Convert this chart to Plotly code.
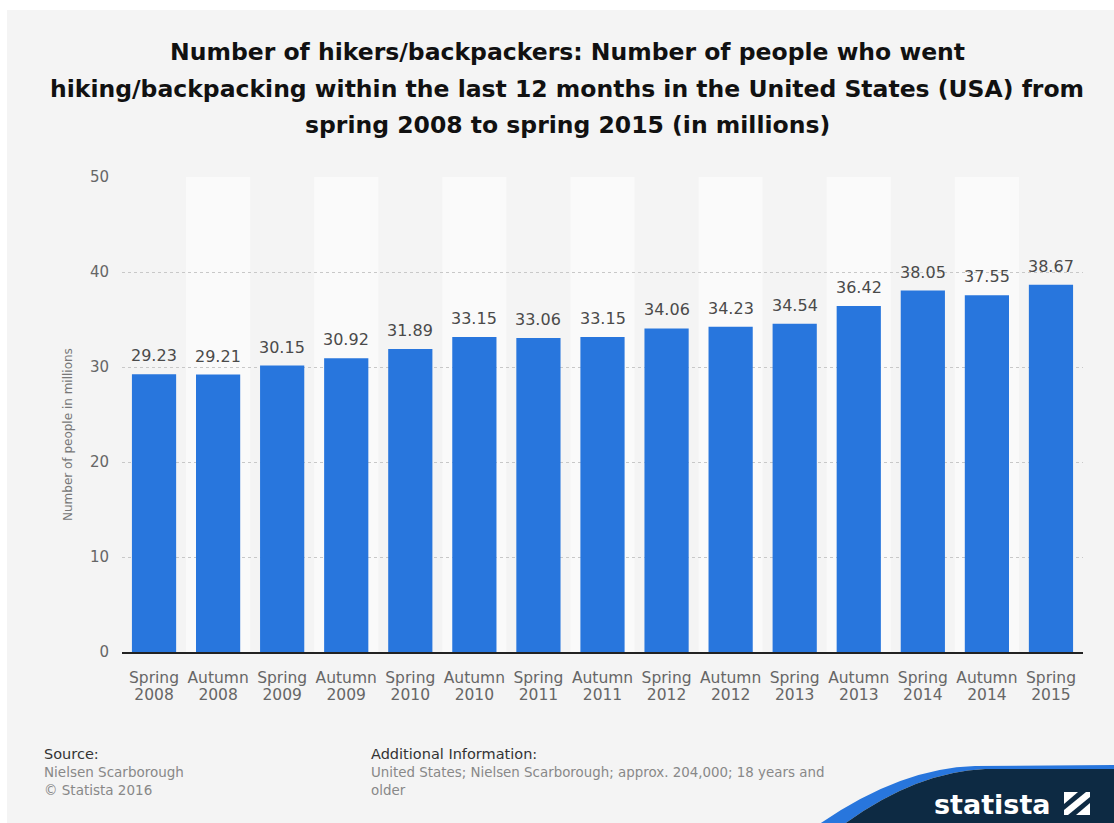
import plotly.graph_objects as go

categories = ["Spring 2008", "Autumn 2008", "Spring 2009", "Autumn 2009", "Spring 2010",
              "Autumn 2010", "Spring 2011", "Autumn 2011", "Spring 2012", "Autumn 2012",
              "Spring 2013", "Autumn 2013", "Spring 2014", "Autumn 2014", "Spring 2015"]
values = [29.23, 29.21, 30.15, 30.92, 31.89, 33.15, 33.06, 33.15, 34.06, 34.23,
          34.54, 36.42, 38.05, 37.55, 38.67]
tick_labels = ["<br>".join(f"<span style='font-size:15.5px'>{part}</span>" for part in c.split(" "))
               for c in categories]
y_ticks = [0, 10, 20, 30, 40, 50]

W, H = 1114, 823
L, R, T, B = 122, 31, 177, 171
PW, PH = W - L - R, H - T - B

def px(x):
    return (x - L) / PW

def py(y):
    return 1 - (y - T) / PH

BG = "#f4f4f4"
BLUE = "#2876dd"
NAVY = "#0d2a43"

fig = go.Figure()
fig.add_trace(go.Bar(
    x=categories, y=values,
    marker=dict(color=BLUE, line=dict(width=0)),
    hoverinfo="x+y",
))

shapes = []
shapes.append(dict(type="rect", xref="paper", yref="paper", x0=px(7), x1=px(W + 5),
                   y0=py(H + 5), y1=py(10), fillcolor=BG, line=dict(width=0), layer="below"))
for i in range(1, len(categories), 2):
    shapes.append(dict(type="rect", xref="x", yref="y", x0=i - 0.5, x1=i + 0.5, y0=0, y1=50,
                       fillcolor="#fafafa", line=dict(width=0), layer="below"))

blue_path = (f"M {px(818)} {py(H + 2)} Q {px(900)} {py(768)} {px(975)} {py(766)} "
             f"L {px(W + 2)} {py(765)} L {px(W + 2)} {py(769)} L {px(985)} {py(769)} "
             f"Q {px(915)} {py(772)} {px(843)} {py(H + 2)} Z")
navy_path = (f"M {px(843)} {py(H + 2)} Q {px(915)} {py(772)} {px(985)} {py(769)} "
             f"L {px(W + 2)} {py(769)} L {px(W + 2)} {py(H + 2)} Z")
shapes.append(dict(type="path", xref="paper", yref="paper", path=blue_path,
                   fillcolor=BLUE, line=dict(width=0)))
shapes.append(dict(type="path", xref="paper", yref="paper", path=navy_path,
                   fillcolor=NAVY, line=dict(width=0)))
shapes.append(dict(type="rect", xref="paper", yref="paper", x0=px(1064), x1=px(1090),
                   y0=py(815), y1=py(792), fillcolor="white", line=dict(width=0)))
shapes.append(dict(type="path", xref="paper", yref="paper",
                   path=f"M {px(1068)} {py(815)} L {px(1090)} {py(797)} L {px(1090)} {py(803)} L {px(1076)} {py(815)} Z",
                   fillcolor=NAVY, line=dict(width=0)))
shapes.append(dict(type="path", xref="paper", yref="paper",
                   path=f"M {px(1064)} {py(804)} L {px(1078)} {py(792)} L {px(1086)} {py(792)} L {px(1064)} {py(810)} Z",
                   fillcolor=NAVY, line=dict(width=0)))

title_lines = ["Number of hikers/backpackers: Number of people who went",
               "hiking/backpacking within the last 12 months in the United States (USA) from",
               "spring 2008 to spring 2015 (in millions)"]
annotations = []
for k, line in enumerate(title_lines):
    annotations.append(dict(text=f"<b>{line}</b>", xref="paper", yref="paper",
                            x=px(567), y=py(52 + 36.5 * k), showarrow=False,
                            xanchor="center", yanchor="middle",
                            font=dict(family="DejaVu Sans", size=23.5, color="#111")))

# value labels above bars
for cat, v in zip(categories, values):
    annotations.append(dict(text=f"{v:.2f}", x=cat, y=v, xref="x", yref="y",
                            showarrow=False, xanchor="center", yanchor="bottom", yshift=7,
                            font=dict(family="DejaVu Sans", size=16, color="#4a4a4a")))

# y-axis title
annotations.append(dict(text="Number of people in millions", xref="paper", yref="paper",
                        x=px(68), y=py(435), textangle=-90, showarrow=False,
                        xanchor="center", yanchor="middle",
                        font=dict(family="DejaVu Sans", size=12, color="#777")))

def note(text, x, y, color, size):
    annotations.append(dict(text=text, xref="paper", yref="paper", x=px(x), y=py(y),
                            showarrow=False, xanchor="left", yanchor="middle",
                            font=dict(family="DejaVu Sans", size=size, color=color)))

note("Source:", 42, 754, "#333", 14.5)
note("Nielsen Scarborough", 42, 772, "#888", 13.5)
note("© Statista 2016", 42, 790, "#888", 13.5)
note("Additional Information:", 369, 754, "#333", 14.5)
note("United States; Nielsen Scarborough; approx. 204,000; 18 years and", 369, 772, "#888", 13.4)
note("older", 369, 790, "#888", 13.4)
annotations.append(dict(text="<b>statista</b>", xref="paper", yref="paper", x=px(1053), y=py(804),
                        showarrow=False, xanchor="right", yanchor="middle",
                        font=dict(family="DejaVu Sans", size=27, color="white")))

fig.update_layout(
    width=W, height=H,
    margin=dict(l=L, r=R, t=T, b=B, autoexpand=False),
    paper_bgcolor="white", plot_bgcolor=BG,
    bargap=0.31, showlegend=False,
    shapes=shapes, annotations=annotations,
    font=dict(family="DejaVu Sans"),
)
fig.update_xaxes(
    tickvals=categories, ticktext=tick_labels,
    tickfont=dict(size=13, color="#666"),
    showline=True, linecolor="#222", linewidth=1.5,
    showgrid=False, ticks="", ticklabelstandoff=14,
    range=[-0.5, len(categories) - 0.5],
)
fig.update_yaxes(
    range=[0, 50], tickvals=y_ticks,
    tickfont=dict(size=15, color="#666"),
    showgrid=True, gridcolor="#c8c8c8", griddash="dot", gridwidth=1,
    zeroline=False, ticks="", ticklabelstandoff=12,
)

fig.write_html("out.html", config={"displayModeBar": False},
               post_script="document.body.style.margin='0';")
